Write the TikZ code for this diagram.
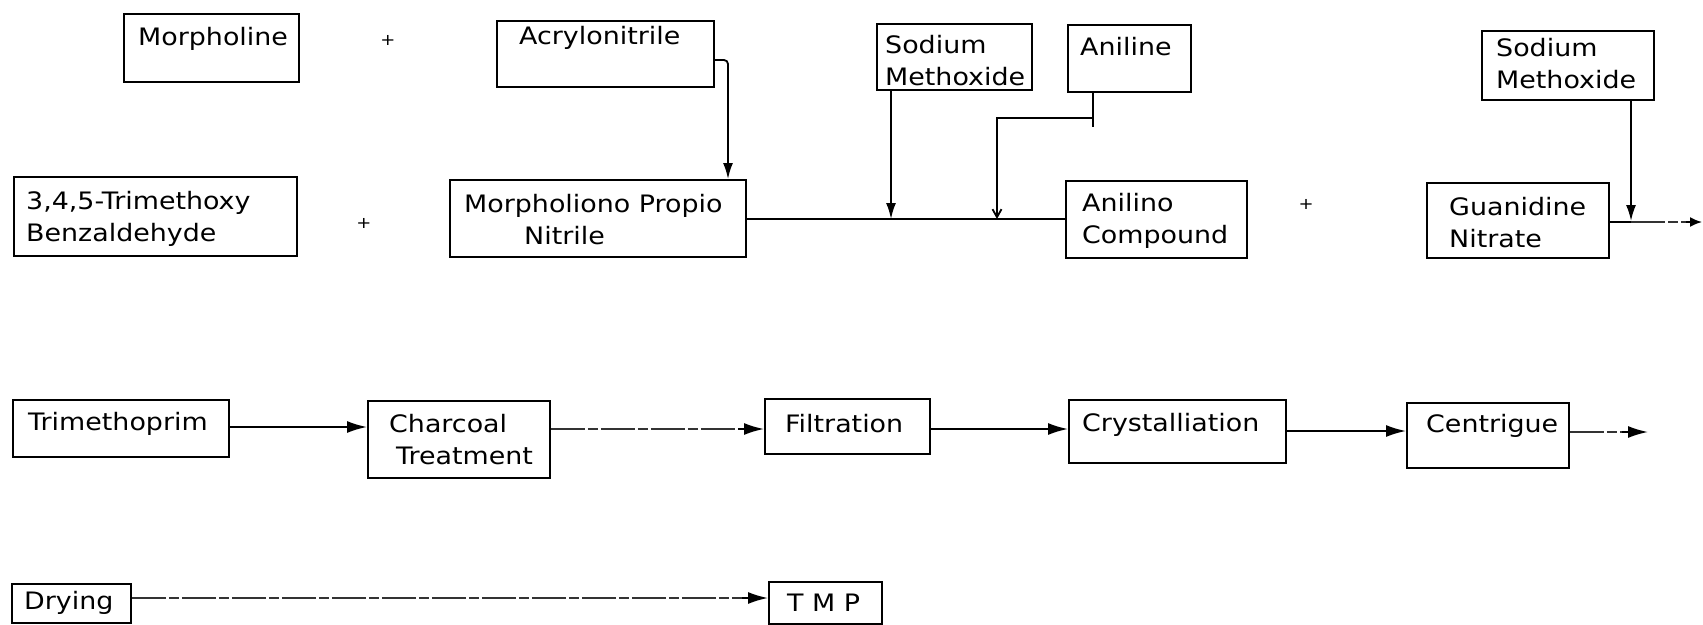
\documentclass[tikz,border=0pt]{standalone}
\usepackage{fontspec}
\setmainfont[FakeStretch=1.12]{DejaVu Sans}
\usetikzlibrary{arrows.meta}
\begin{document}
\begin{tikzpicture}[x=1pt,y=-1pt,
  box/.style={draw, line width=1.8pt, inner sep=0pt, anchor=north west},
  txt/.style={inner sep=0pt, anchor=west, align=left, font=\fontsize{24}{32}\selectfont},
  plus/.style={inner sep=0pt, font=\fontsize{16}{16}\selectfont},
  conn/.style={line width=1.8pt},
  faint/.style={line width=1.5pt, black!80, dash pattern=on 34pt off 3pt on 10pt off 3pt},
  arr/.style={conn, -{Latex[length=20pt,width=12pt]}},
  varr/.style={conn, -{Latex[length=16pt,width=10pt]}},
  oarr/.style={conn, -{Straight Barb[length=8pt,width=9pt]}},
]
\useasboundingbox (0,0) rectangle (1703,624);

% boxes
\node[box, minimum width=175pt, minimum height=68pt] (morph) at (123,13) {};
\node[box, minimum width=217pt, minimum height=66pt] (acry) at (496,20) {};
\node[box, minimum width=283pt, minimum height=79pt] (tmb) at (13,176) {};
\node[box, minimum width=296pt, minimum height=77pt] (mpn) at (449,179) {};
\node[box, minimum width=155pt, minimum height=66pt] (sm1) at (876,23) {};
\node[box, minimum width=123pt, minimum height=67pt] (anil) at (1067,24) {};
\node[box, minimum width=181pt, minimum height=77pt] (anc) at (1065,180) {};
\node[box, minimum width=182pt, minimum height=75pt] (gn) at (1426,182) {};
\node[box, minimum width=172pt, minimum height=69pt] (sm2) at (1481,30) {};
\node[box, minimum width=216pt, minimum height=57pt] (tmp) at (12,399) {};
\node[box, minimum width=182pt, minimum height=77pt] (char) at (367,400) {};
\node[box, minimum width=165pt, minimum height=55pt] (filt) at (764,398) {};
\node[box, minimum width=217pt, minimum height=63pt] (cryst) at (1068,399) {};
\node[box, minimum width=162pt, minimum height=65pt] (cent) at (1406,402) {};
\node[box, minimum width=119pt, minimum height=39pt] (dry) at (11,583) {};
\node[box, minimum width=113pt, minimum height=42pt] (tmpn) at (768,581) {};

% texts
\node[txt] (morphT) at (138,39) {Morpholine};
\node[txt] (acryT) at (519,38) {Acrylonitrile};
\node[txt] (tmbT) at (26,219) {3,4,5-Trimethoxy\\Benzaldehyde};
\node[txt] (mpnT) at (464,220) {Morpholiono Propio\\\hspace*{60pt}Nitrile};
\node[txt] (sm1T) at (885,61) {Sodium\\Methoxide};
\node[txt] (anilT) at (1080,47) {Aniline};
\node[txt] (ancT) at (1082,221) {Anilino\\Compound};
\node[txt] (gnT) at (1449,223) {Guanidine\\Nitrate};
\node[txt] (sm2T) at (1496,64) {Sodium\\Methoxide};
\node[txt] (tmpT) at (28,424) {Trimethoprim};
\node[txt] (charT) at (389,440) {Charcoal\\\hspace*{7pt}Treatment};
\node[txt] (filtT) at (785,424) {Filtration};
\node[txt] (crystT) at (1082,425) {Crystalliation};
\node[txt] (centT) at (1426,426) {Centrigue};
\node[txt] (dryT) at (24,603) {Drying};
\node[txt] (tmpnT) at (787,603) {T M P};

% plus signs
\node[plus] (p1) at (388,40) {+};
\node[plus] (p2) at (364,223) {+};
\node[plus] (p3) at (1306,204) {+};

% free ends
\coordinate (j1) at (891,219);
\coordinate (j2) at (997,219);
\coordinate (j3) at (1631,221);
\coordinate (gj) at (1631,222);
\coordinate (gout) at (1702,222);
\coordinate (cout) at (1648,432);
\coordinate (an1) at (1093,127);
\coordinate (an2) at (1093,118);
\coordinate (an3) at (997,118);

% connectors
\draw[varr, rounded corners=4pt] (acry.east |- 0,60) -| (mpn.north -| 728,0);
\draw[conn] (mpn.east |- 0,219) -- (anc.west |- 0,219);
\draw[varr] (sm1.south -| j1) -- (j1);
\draw[conn] (anil.south -| an1) -- (an1);
\draw[oarr] (an2) -- (an3) -- (j2);
\draw[varr] (sm2.south -| j3) -- (j3);
\draw[conn] (gn.east |- gj) -- (gj);
\draw[faint] (gj) -- ([xshift=-12pt]gout);
\draw[conn, -{Latex[length=12pt,width=10pt]}] ([xshift=-16pt]gout) -- (gout);
\draw[arr] (tmp.east |- 0,427) -- (char.west |- 0,427);
\draw[faint] (char.east |- 0,429) -- ([xshift=-20pt]filt.west |- 0,429);
\draw[arr] ([xshift=-26pt]filt.west |- 0,429) -- (filt.west |- 0,429);
\draw[arr] (filt.east |- 0,429) -- (cryst.west |- 0,429);
\draw[arr] (cryst.east |- 0,431) -- (cent.west |- 0,431);
\draw[faint] (cent.east |- cout) -- ([xshift=-20pt]cout);
\draw[arr] ([xshift=-26pt]cout) -- (cout);
\draw[faint] (dry.east |- 0,598) -- ([xshift=-20pt]tmpn.west |- 0,598);
\draw[arr] ([xshift=-26pt]tmpn.west |- 0,598) -- (tmpn.west |- 0,598);
\end{tikzpicture}
\end{document}
